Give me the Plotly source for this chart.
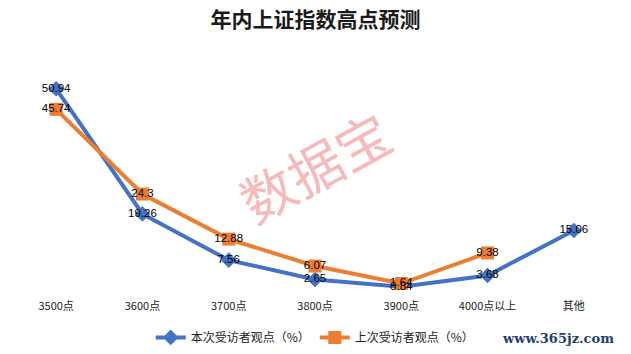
import plotly.graph_objects as go

categories = ["3500点", "3600点", "3700点", "3800点", "3900点", "4000点以上", "其他"]
current_vals = [50.94, 19.26, 7.56, 2.65, 0.84, 3.68, 15.06]
previous_vals = [45.74, 24.3, 12.88, 6.07, 1.64, 9.38, None]
name_current = "本次受访者观点（%）"
name_previous = "上次受访者观点（%）"
title_text = "年内上证指数高点预测"

BLUE = "#4472C4"
ORANGE = "#ED7D31"

def fmt(vals):
    return ["" if v is None else f"{v:g}" for v in vals]

fig = go.Figure()
fig.add_trace(go.Scatter(
    x=categories, y=current_vals, name=name_current, mode="lines+markers",
    line=dict(color=BLUE, width=4),
    marker=dict(symbol="diamond", size=12, color=BLUE),
))
fig.add_trace(go.Scatter(
    x=categories, y=previous_vals, name=name_previous, mode="lines+markers",
    line=dict(color=ORANGE, width=4),
    marker=dict(symbol="square", size=13, color=ORANGE),
))
for vals in (current_vals, previous_vals):
    fig.add_trace(go.Scatter(
        x=categories, y=vals, mode="text", text=fmt(vals),
        textposition="middle center", showlegend=False, hoverinfo="skip",
        textfont=dict(family="Liberation Sans, Arial, sans-serif", size=11.5, color="#000000"),
    ))

fig.update_layout(
    width=631, height=354,
    margin=dict(l=13, r=14, t=53, b=64, autoexpand=False),
    paper_bgcolor="white", plot_bgcolor="white",
    title=dict(text=f"<b>{title_text}</b>", x=0.5, xanchor="center", y=0.945, yanchor="middle",
               font=dict(family="Noto Sans CJK SC", size=21, color="#1a1a1a")),
    xaxis=dict(type="category", range=[-0.5, 6.5], showgrid=False, showline=False, zeroline=False,
               ticks="", ticklabelstandoff=8,
               tickfont=dict(family="Noto Sans CJK SC", size=11, color="#222222")),
    yaxis=dict(range=[0, 60], visible=False, showgrid=False, zeroline=False),
    legend=dict(orientation="h", x=0.228, xanchor="left", y=-0.2, yanchor="middle",
                font=dict(family="Noto Sans CJK SC", size=12, color="#222222"),
                itemwidth=30, tracegroupgap=0),
    showlegend=True,
    annotations=[
        dict(text="数据宝", xref="paper", yref="paper", x=(314 - 13) / 604, y=(290 - 165) / 237,
             showarrow=False, textangle=-29,
             font=dict(family="Noto Sans CJK SC", size=54, color="rgba(242,140,140,0.6)")),
        dict(text="<b>www.365jz.com</b>", xref="paper", yref="paper", x=(558 - 13) / 604,
             y=(290 - 338) / 237, xanchor="center", yanchor="middle", showarrow=False,
             font=dict(family="DejaVu Serif", size=13, color="#1F3D73")),
    ],
)

fig.write_html("out.html")
